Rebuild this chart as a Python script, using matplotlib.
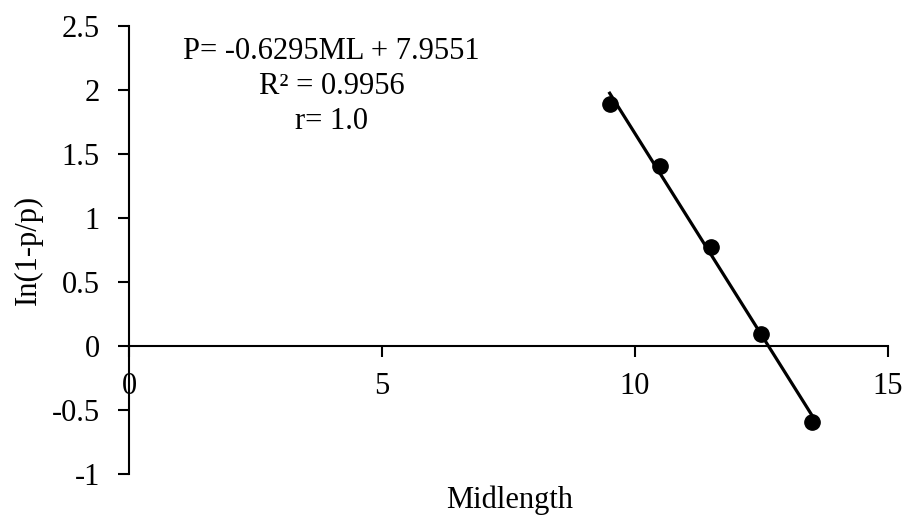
import matplotlib
matplotlib.use("Agg")
import matplotlib.pyplot as plt
import numpy as np

# Midlength classes and logit of the cumulative proportion
midlength = [9.5, 10.5, 11.5, 12.5, 13.5]
logit_p = [1.89, 1.41, 0.77, 0.09, -0.59]

# fitted line: P = slope * ML + intercept
slope = -0.6295
intercept = 7.9551
r_squared = 0.9956

plt.rcParams['font.family'] = ['Liberation Serif', 'DejaVu Serif']
plt.rcParams['font.size'] = 22

fig = plt.figure(figsize=(9.1, 5.17), dpi=100)
ax = fig.add_axes([0.1418, 0.0832, 0.834, 0.8665])

ax.plot(midlength, logit_p, 'o', color='black', markersize=11, zorder=3)

fit_x = np.array([midlength[0], midlength[-1]])
ax.plot(fit_x, slope * fit_x + intercept, color='black', linewidth=2.3, zorder=2)

ax.set_xlim(0, 15)
ax.set_ylim(-1, 2.5)
ax.set_xticks([0, 5, 10, 15])
ax.set_yticks([-1, -0.5, 0, 0.5, 1, 1.5, 2, 2.5])
ax.set_yticklabels(['-1', '-0.5', '0', '0.5', '1', '1.5', '2', '2.5'])

# axes cross at the origin, like a spreadsheet chart
ax.spines['left'].set_position(('data', 0))
ax.spines['bottom'].set_position(('data', 0))
ax.spines['top'].set_visible(False)
ax.spines['right'].set_visible(False)
for s in ('left', 'bottom'):
    ax.spines[s].set_linewidth(1.5)

ax.tick_params(axis='x', direction='out', length=8, width=1.5, pad=11)
ax.tick_params(axis='y', direction='out', length=8, width=1.5, pad=13)

ax.set_xlabel('Midlength')
ax.xaxis.set_label_coords(0.502, -0.025)
ax.set_ylabel('In(1-p/p)')
ax.yaxis.set_label_coords(-0.113, 0.5)

ax.text(4.0, 2.03,
        f'P= {slope}ML + {intercept}\nR² = {r_squared}\nr= 1.0',
        ha='center', va='center', multialignment='center', linespacing=1.28)

fig.savefig('out.png', dpi=100)
